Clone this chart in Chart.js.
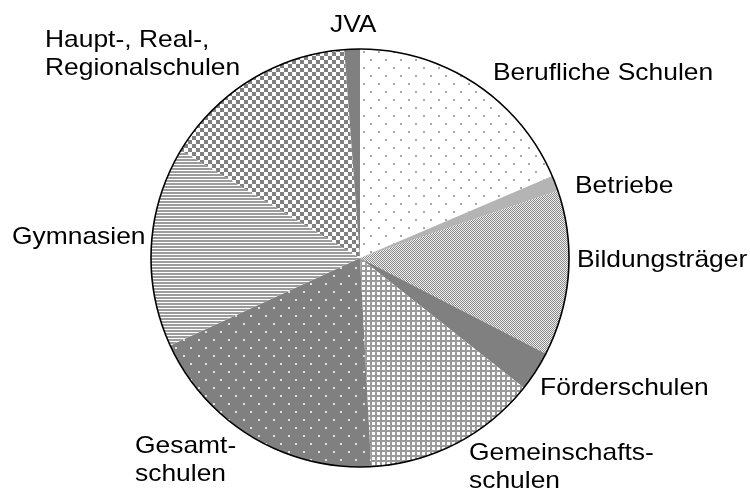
<!DOCTYPE html>
<html>
<head>
<meta charset="utf-8">
<script src="https://cdn.jsdelivr.net/npm/chart.js@4.4.1/dist/chart.umd.min.js"></script>
<style>
    html, body { margin: 0; padding: 0; background: #fff; }
    #wrap { width: 750px; height: 490px; }
</style>
</head>
<body>
<div id="wrap"><canvas id="pie"></canvas></div>
<script>
// Anteile in %, im Uhrzeigersinn ab 12 Uhr
const categories = [
    'Berufliche Schulen',
    'Betriebe',
    'Bildungsträger',
    'Förderschulen',
    'Gemeinschaftsschulen',
    'Gesamtschulen',
    'Gymnasien',
    'Haupt-, Real-, Regionalschulen',
    'JVA'
];
const shares = [18.6, 1.2, 12.8, 3.1, 13.5, 19.0, 15.5, 15.2, 1.2];

// Beschriftung (Zeilen) wie im Original umbrochen
const labelLines = [
    ['Berufliche Schulen'],
    ['Betriebe'],
    ['Bildungsträger'],
    ['Förderschulen'],
    ['Gemeinschafts-', 'schulen'],
    ['Gesamt-', 'schulen'],
    ['Gymnasien'],
    ['Haupt-, Real-,', 'Regionalschulen'],
    ['JVA']
];

// layout: left x / baseline of first line
const labelPos = [
    [493, 80], [575, 193], [577, 267], [540, 395], [469, 460],
    [135, 453], [12, 244], [45, 47], [330, 32]
];
const LINE_H = 28;

function tile(w, h, draw) {
    const c = document.createElement('canvas');
    c.width = w;
    c.height = h;
    const g = c.getContext('2d');
    draw(g);
    return document.createElement('canvas').getContext('2d').createPattern(c, 'repeat');
}

const GRAY = '#808080';

const patterns = [
    // Berufliche Schulen: weiss mit grauen Punkten
    tile(15, 16, g => {
        g.fillStyle = '#fff'; g.fillRect(0, 0, 15, 16);
        g.fillStyle = '#a8a8a8';
        g.fillRect(3, 3, 2, 2);
        g.fillRect(10, 11, 2, 2);
    }),
    '#b4b4b4',
    // Bildungsträger: feines Schachbrett
    tile(2, 2, g => {
        g.fillStyle = '#eeeeee'; g.fillRect(0, 0, 2, 2);
        g.fillStyle = '#8a8a8a';
        g.fillRect(0, 0, 1, 1);
        g.fillRect(1, 1, 1, 1);
    }),
    GRAY,
    // Gemeinschaftsschulen: Gitter
    tile(5, 5, g => {
        g.fillStyle = '#fff'; g.fillRect(0, 0, 5, 5);
        g.fillStyle = '#9a9a9a';
        g.fillRect(0, 0, 5, 2);
        g.fillRect(0, 0, 2, 5);
    }),
    // Gesamtschulen: grau mit weissen Punkten
    tile(15, 16, g => {
        g.fillStyle = GRAY; g.fillRect(0, 0, 15, 16);
        g.fillStyle = '#e0e0e0';
        g.fillRect(3, 3, 2, 2);
        g.fillRect(10, 11, 2, 2);
    }),
    // Gymnasien: waagerechte Streifen
    tile(3, 3, g => {
        g.fillStyle = '#fff'; g.fillRect(0, 0, 3, 3);
        g.fillStyle = '#9c9c9c';
        g.fillRect(0, 0, 3, 2);
    }),
    // Haupt-, Real-, Regionalschulen: Schachbrett
    tile(8, 8, g => {
        g.fillStyle = '#fff'; g.fillRect(0, 0, 8, 8);
        g.fillStyle = GRAY;
        g.fillRect(0, 0, 4, 4);
        g.fillRect(4, 4, 4, 4);
    }),
    GRAY
];

const outlineAndLabels = {
    id: 'outlineAndLabels',
    afterDatasetsDraw(chart) {
        const ctx = chart.ctx;
        const arc = chart.getDatasetMeta(0).data[0];
        if (!arc) return;

        ctx.save();
        ctx.beginPath();
        ctx.arc(arc.x, arc.y, arc.outerRadius, 0, Math.PI * 2);
        ctx.lineWidth = 1.6;
        ctx.strokeStyle = '#000';
        ctx.stroke();

        ctx.fillStyle = '#000';
        ctx.font = '24px "Liberation Sans", Arial, sans-serif';
        ctx.textBaseline = 'alphabetic';
        ctx.textAlign = 'left';
        labelLines.forEach((lines, i) => {
            const [x, y] = labelPos[i];
            lines.forEach((txt, k) => {
                ctx.save();
                ctx.translate(x, y + k * LINE_H);
                ctx.scale(1.1, 1);
                ctx.fillText(txt, 0, 0);
                ctx.restore();
            });
        });
        ctx.restore();
    }
};

new Chart(document.getElementById('pie'), {
    type: 'pie',
    data: {
        labels: categories,
        datasets: [{
            data: shares,
            backgroundColor: patterns,
            borderWidth: 0
        }]
    },
    options: {
        responsive: true,
        maintainAspectRatio: false,
        animation: false,
        layout: {
            padding: { top: 49, bottom: 23, left: 151, right: 181 }
        },
        plugins: {
            legend: { display: false },
            tooltip: { enabled: false }
        }
    },
    plugins: [outlineAndLabels]
});
</script>
</body>
</html>
